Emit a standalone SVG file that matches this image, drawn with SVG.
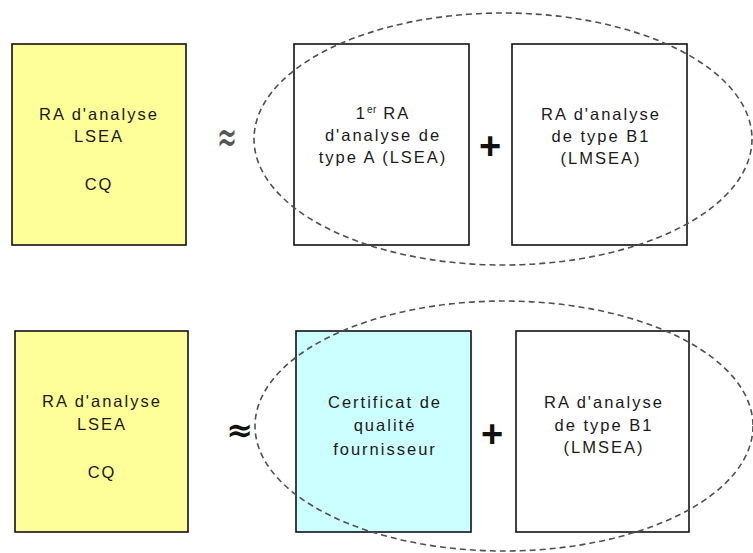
<svg xmlns="http://www.w3.org/2000/svg" width="753" height="553" viewBox="0 0 753 553">
  <style>
    .box { stroke: #111; stroke-width: 1.6; }
    .yellow { fill: #FFFF99; }
    .cyan { fill: #CCFFFF; }
    .white { fill: #FFFFFF; }
    .lbl { font-family: "Liberation Sans", Arial, sans-serif; font-size: 16.5px; letter-spacing: 2px; fill: #1a1a1a; text-anchor: middle; }
    .sup { font-size: 10px; letter-spacing: 0.5px; }
    .group { fill: none; stroke: #505050; stroke-width: 1.6; stroke-dasharray: 6 4; }
    .plus { font-family: "Liberation Sans", Arial, sans-serif; font-size: 38px; font-weight: bold; fill: #111; text-anchor: middle; }
    .approx { font-family: "DejaVu Sans", sans-serif; text-anchor: middle; }
  </style>
  <rect width="753" height="553" fill="#FFFFFF"/>

  <!-- Row 1 -->
  <g id="lsea-cq-1">
    <rect class="box yellow" x="12" y="44" width="174" height="201"/>
    <text class="lbl" x="99" y="120">RA d'analyse</text>
    <text class="lbl" x="99" y="142">LSEA</text>
    <text class="lbl" x="99" y="190">CQ</text>
  </g>
  <g id="type-a-lsea">
    <rect class="box white" x="294" y="44" width="175" height="201"/>
    <text class="lbl" x="383" y="119">1<tspan class="sup" dy="-6">er</tspan><tspan dy="6"> RA</tspan></text>
    <text class="lbl" x="383" y="141">d'analyse de</text>
    <text class="lbl" x="383" y="163">type A (LSEA)</text>
  </g>
  <g id="type-b1-lmsea-1">
    <rect class="box white" x="512" y="44" width="175" height="201"/>
    <text class="lbl" x="601" y="120">RA d'analyse</text>
    <text class="lbl" x="601" y="142">de type B1</text>
    <text class="lbl" x="601" y="164">(LMSEA)</text>
  </g>

  <!-- Row 2 -->
  <g id="lsea-cq-2">
    <rect class="box yellow" x="15" y="331" width="173" height="201"/>
    <text class="lbl" x="102" y="407">RA d'analyse</text>
    <text class="lbl" x="102" y="430">LSEA</text>
    <text class="lbl" x="102" y="478">CQ</text>
  </g>
  <g id="certificat-fournisseur">
    <rect class="box cyan" x="296" y="331" width="175" height="201"/>
    <text class="lbl" x="385" y="408">Certificat de</text>
    <text class="lbl" x="385" y="431">qualit&#233;</text>
    <text class="lbl" x="385" y="455">fournisseur</text>
  </g>
  <g id="type-b1-lmsea-2">
    <rect class="box white" x="516" y="331" width="173" height="201"/>
    <text class="lbl" x="604" y="408">RA d'analyse</text>
    <text class="lbl" x="604" y="431">de type B1</text>
    <text class="lbl" x="604" y="453">(LMSEA)</text>
  </g>

  <!-- Grouping ellipses and relation signs -->
  <g id="connectors">
    <ellipse class="group" cx="503" cy="139" rx="249" ry="126"/>
    <ellipse class="group" cx="504" cy="426" rx="249" ry="125"/>
    <text class="approx" x="0" y="0" font-size="28" fill="#555" transform="translate(227 153) scale(0.85 1.7)">≈</text>
    <text class="approx" x="240" y="441" font-size="32" font-weight="bold" fill="#111">≈</text>
    <text class="plus" x="490" y="159">+</text>
    <text class="plus" x="492" y="447">+</text>
  </g>
</svg>
